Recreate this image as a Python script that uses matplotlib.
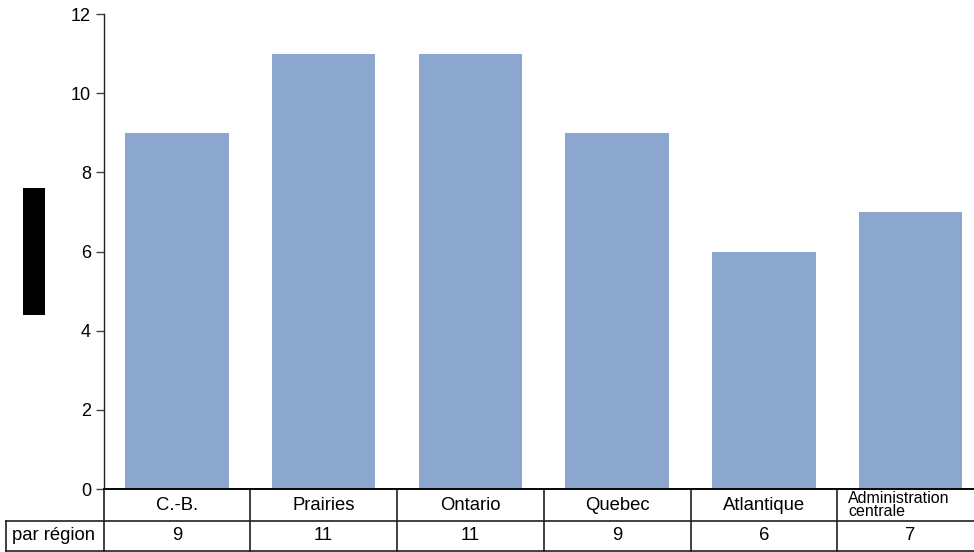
import matplotlib
matplotlib.use("Agg")
import matplotlib.pyplot as plt
from matplotlib.patches import Rectangle

plt.rcParams['font.family'] = ['Liberation Sans', 'DejaVu Sans']

categories = ["C.-B.", "Prairies", "Ontario", "Quebec", "Atlantique", "Administration\ncentrale"]
values = [9, 11, 11, 9, 6, 7]
row_label = "par région"
yticks = [0, 2, 4, 6, 8, 10, 12]

W, H = 974, 552
fig = plt.figure(figsize=(W / 100, H / 100), dpi=100)
L, R, T, B = 103.5, 984, 14, 489
ax = fig.add_axes([L / W, 1 - B / H, (R - L) / W, (B - T) / H])

n = len(categories)
x = list(range(n))
ax.bar(x, values, width=0.705, color='#8BA7CE', zorder=2)
ax.set_xlim(-0.5, n - 0.5)
ax.set_ylim(0, 12)
ax.set_yticks(yticks)
ax.set_yticklabels([str(v) for v in yticks], fontsize=13)
ax.tick_params(axis='y', direction='out', length=6, width=1, pad=3, color='#404040')
ax.set_xticks([])
for s in ['top', 'right']:
    ax.spines[s].set_visible(False)
ax.spines['left'].set_linewidth(1)
ax.spines['left'].set_color('#202020')
ax.spines['bottom'].set_linewidth(1.2)

tr = ax.get_xaxis_transform()
def yfrac(ypix):
    return (B - ypix) / (B - T)

cell = (R - L) / n
row1_bot = 520.5
row2_bot = 550.5
lkw = dict(color='#202020', lw=1.2, clip_on=False, transform=tr)
ax.plot([-0.5, n - 0.5], [yfrac(B), yfrac(B)], **lkw)
left_x_data = -0.5 - (L - 6) / cell
ax.plot([left_x_data, n - 0.5], [yfrac(row1_bot)] * 2, **lkw)
ax.plot([left_x_data, n - 0.5], [yfrac(row2_bot)] * 2, **lkw)
for i in range(n + 1):
    xv = i - 0.5
    ax.plot([xv, xv], [yfrac(B), yfrac(row2_bot)], **lkw)
ax.plot([left_x_data, left_x_data], [yfrac(row1_bot), yfrac(row2_bot)], **lkw)

for i, (c, v) in enumerate(zip(categories, values)):
    if "\n" in c:
        ax.text(i - 0.5 + 11 / cell, yfrac((B + row1_bot) / 2 + 0.5), c, transform=tr,
                ha='left', va='center', fontsize=11.5, linespacing=0.82, clip_on=False)
    else:
        ax.text(i, yfrac((B + row1_bot) / 2 + 0.5), c, transform=tr, ha='center',
                va='center', fontsize=13.3, clip_on=False)
    ax.text(i, yfrac((row1_bot + row2_bot) / 2 + 0.5), str(v), transform=tr,
            ha='center', va='center', fontsize=13.3, clip_on=False)
ax.text(left_x_data + 6 / cell, yfrac((row1_bot + row2_bot) / 2 + 0.5), row_label, transform=tr,
        ha='left', va='center', fontsize=13.3, clip_on=False)

# black redaction box on the left (y-axis title area)
fig.add_artist(Rectangle((23 / W, 1 - 315 / H), 22 / W, 127 / H,
                         transform=fig.transFigure, facecolor='black', edgecolor='none'))

fig.savefig("out.png", dpi=100)
